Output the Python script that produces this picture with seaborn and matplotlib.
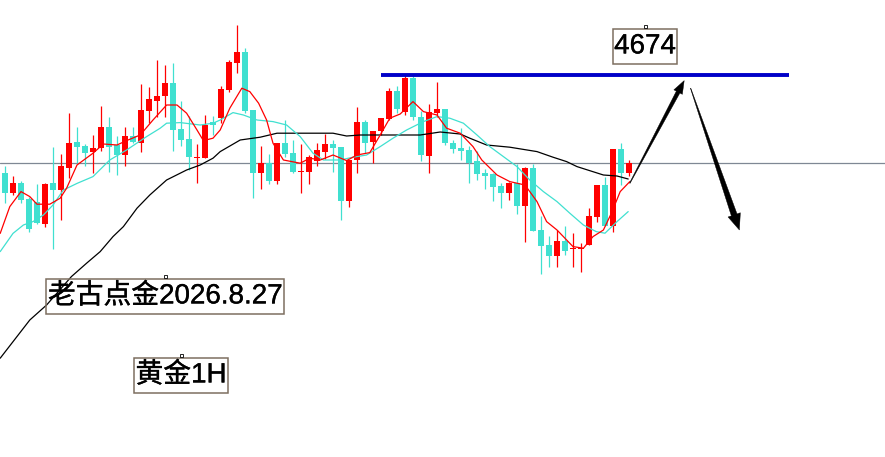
import numpy as np
import pandas as pd
import matplotlib
matplotlib.use("Agg")
import matplotlib.pyplot as plt
import matplotlib.patheffects as pe
import seaborn as sns
from matplotlib.patches import Polygon, Rectangle
from matplotlib.transforms import IdentityTransform

# ---------------- data (gold 1H candles) ----------------
opens = [4625, 4615, 4620, 4612, 4610.5, 4599.5, 4620, 4616.5, 4627.5, 4640.5,
         4638.5, 4635.5, 4637.5, 4648, 4639, 4634, 4643.5, 4640, 4656, 4661,
         4663.5, 4670, 4647, 4642, 4632.5, 4632.5, 4650.5, 4652.5, 4666.5, 4680,
         4685.5, 4656.5, 4625, 4630, 4621, 4640, 4635, 4625.5, 4625.5, 4631,
         4635.5, 4639.5, 4638, 4611, 4631.5, 4650.5, 4640.5, 4646, 4652, 4666,
         4655.5, 4672.5, 4653, 4633.5, 4655, 4657, 4640, 4637.5, 4636.5, 4631,
         4625, 4624.5, 4618.5, 4615, 4620, 4608.5, 4627.5, 4596.5, 4589, 4583.5,
         4591, 4587, 4587, 4589, 4603, 4619, 4598.5, 4637, 4625]
highs = [4628.5, 4623.5, 4621, 4613, 4619.5, 4620, 4638, 4634.5, 4655, 4648,
         4639.5, 4644, 4658.5, 4653, 4643.5, 4648, 4648, 4669.5, 4668, 4681.5,
         4679, 4680, 4661, 4653.5, 4639.5, 4654, 4653.5, 4668.5, 4681.5, 4699,
         4687.5, 4656.5, 4638.5, 4634.5, 4640, 4651.5, 4641.5, 4639.5, 4634, 4640,
         4644.5, 4641.5, 4638, 4631.5, 4658, 4651.5, 4646, 4652.5, 4667.5, 4668.5,
         4674, 4674, 4656, 4659.5, 4670.5, 4657, 4641.5, 4647.5, 4638.5, 4636,
         4627, 4625, 4620, 4620.5, 4629.5, 4628, 4629.5, 4603.5, 4593.5, 4596.5,
         4598.5, 4595, 4590, 4607.5, 4619, 4623, 4637, 4640, 4631.5]
lows = [4610, 4614, 4610, 4595.5, 4599.5, 4598, 4587, 4601.5, 4622.5, 4630,
        4628.5, 4625, 4636, 4625.5, 4624, 4628.5, 4640, 4635.5, 4650, 4653,
        4653, 4636, 4638.5, 4626.5, 4620, 4632.5, 4644, 4650, 4665.5, 4675,
        4655, 4612.5, 4617, 4619.5, 4619.5, 4633, 4625, 4615, 4619.5, 4628.5,
        4632, 4625.5, 4601.5, 4608, 4625, 4635, 4630, 4644, 4651.5, 4655,
        4654, 4651.5, 4631, 4625, 4653, 4639, 4635, 4631.5, 4620, 4621.5,
        4617, 4611, 4607.5, 4611.5, 4604.5, 4590.5, 4596, 4574.5, 4578, 4578,
        4584, 4578, 4575.5, 4589, 4600.5, 4598.5, 4595.5, 4619, 4623.5]
closes = [4615, 4620, 4611.5, 4597, 4600, 4619.5, 4616.5, 4628.5, 4640, 4638,
          4635, 4637.5, 4648, 4638, 4634, 4643.5, 4640.5, 4656.5, 4662, 4663.5,
          4670, 4646.5, 4641.5, 4633, 4633, 4649, 4649, 4667, 4680.5, 4685.5,
          4656, 4625, 4630, 4621, 4640, 4634.5, 4625.5, 4626, 4633, 4636.5,
          4639.5, 4637.5, 4611, 4631.5, 4650.5, 4640, 4646, 4652.5, 4666, 4657,
          4672.5, 4653, 4634, 4655.5, 4657, 4640, 4637, 4636, 4630, 4624.5,
          4623.5, 4618, 4615, 4620, 4608.5, 4627.5, 4596, 4588.5, 4583.5, 4591,
          4586, 4587.5, 4587.5, 4603.5, 4619, 4598.5, 4637, 4625, 4630]

# moving-average lines (bar index, price)
ma_fast_x = [-0.6, 0.6, 2.0, 3.1, 4.0, 5.6, 6.9, 7.7, 9.0, 11.0, 12.3, 14.0, 15.2, 16.9,
             18.5, 20.2, 21.5, 22.7, 24.0, 24.8, 26.0, 26.9, 28.1, 29.6, 30.6, 31.7,
             32.7, 33.5, 34.8, 36.9, 38.1, 39.4, 41.0, 42.7, 44.0, 45.6, 46.9, 48.1,
             49.4, 51.0, 52.3, 54.0, 55.2, 56.9, 58.5, 59.6, 61.5, 63.1, 65.0, 66.5,
             67.7, 69.0, 71.0, 72.3, 73.5, 74.8, 75.8, 76.9, 78.1]
ma_fast_y = [4594.8, 4608.2, 4615.7, 4613.2, 4609.4, 4609.4, 4612.4, 4617.4, 4629.0,
             4634.9, 4639.5, 4639.0, 4641.2, 4644.0, 4651.5, 4659.0, 4659.0, 4654.9,
             4646.5, 4641.2, 4642.4, 4646.5, 4657.4, 4667.4, 4665.7, 4659.9, 4651.5,
             4639.9, 4631.5, 4629.9, 4632.4, 4631.5, 4634.0, 4631.2, 4634.0, 4635.2,
             4644.0, 4652.4, 4654.5, 4660.7, 4655.7, 4654.0, 4647.4, 4644.9, 4638.2,
             4631.5, 4624.0, 4620.7, 4619.0, 4610.7, 4600.7, 4596.5, 4588.2, 4587.4,
             4593.2, 4596.5, 4604.9, 4615.7, 4620.7]
ma_mid_x = [-0.6, 1.0, 2.3, 3.5, 4.8, 6.0, 7.3, 9.0, 11.0, 13.1, 15.2, 17.7, 19.4, 20.2,
            21.9, 24.4, 26.0, 26.9, 28.5, 29.8, 31.5, 33.5, 35.2, 36.9, 38.5, 39.8,
            41.9, 43.5, 45.2, 46.9, 48.5, 50.2, 52.3, 54.0, 55.6, 57.3, 59.0, 60.6,
            62.3, 64.0, 65.6, 67.3, 69.0, 70.6, 72.3, 73.9, 75.0, 76.5, 77.9]
ma_mid_y = [4585.7, 4594.8, 4599.0, 4600.7, 4604.0, 4609.0, 4616.5, 4619.8, 4623.2,
            4631.5, 4636.5, 4643.2, 4647.4, 4649.9, 4650.2, 4649.0, 4649.9, 4651.5,
            4655.2, 4654.0, 4651.5, 4650.7, 4649.0, 4643.2, 4634.9, 4631.5, 4631.5,
            4632.9, 4634.0, 4638.2, 4642.4, 4646.5, 4650.7, 4653.2, 4652.4, 4649.9,
            4644.0, 4638.2, 4633.2, 4628.2, 4621.5, 4615.7, 4610.7, 4604.9, 4599.0,
            4595.7, 4594.9, 4600.7, 4605.7]
ma_slow_x = [-0.6, 3.1, 5.2, 8.3, 10.2, 11.9, 13.5, 14.8, 16.5, 18.1, 20.2, 22.7, 24.4,
             26.0, 26.9, 29.4, 31.9, 34.0, 41.0, 42.7, 44.4, 51.9, 54.4, 56.9, 58.1,
             60.2, 63.1, 66.5, 68.5, 70.2, 71.5, 74.8, 76.5, 77.9]
ma_slow_y = [4532.4, 4551.5, 4559.0, 4573.2, 4579.9, 4585.7, 4593.2, 4598.2, 4607.4,
             4614.0, 4621.5, 4626.5, 4629.0, 4632.4, 4635.7, 4641.5, 4642.9, 4644.9,
             4644.9, 4643.5, 4644.0, 4644.0, 4645.5, 4644.5, 4642.4, 4639.0, 4637.9,
             4635.7, 4632.9, 4630.7, 4628.2, 4624.0, 4623.5, 4622.0]

# annotations
ref_price = 4630.0                 # grey horizontal line
resist_price = 4674.0              # blue resistance line
resist_span = [47.0, 98.0]
arrow_tails = [(78.1, 4619.9), (85.7, 4667.4)]
arrow_tips = [(84.9, 4671.2), (91.8, 4596.5)]
labels = ["4674", "老古点金2026.8.27", "黄金1H"]
label_x = [80.0, 20.0, 22.0]
label_y = [4688.3, 4563.3, 4523.8]

# ---------------- drawing ----------------
sns.set_style("white")
plt.rcParams["font.family"] = ["Liberation Sans", "Noto Sans CJK SC", "DejaVu Sans"]

fig = plt.figure(figsize=(8.85, 4.57), dpi=100)
ax = fig.add_axes([0, 0, 1, 1])
ax.set_xlim(-0.625, 110)
ax.set_ylim(4483, 4711.5)
ax.axis("off")

UP, DOWN = "#ff0000", "#40e0d0"
idx = np.arange(len(opens))
o, h, l, c = map(np.asarray, (opens, highs, lows, closes))
cols = [UP if cc >= oo else DOWN for oo, cc in zip(o, c)]

ax.axhline(ref_price, color="#7f8894", lw=0.9, zorder=1)

ax.vlines(idx, l, h, colors=cols, lw=0.9, zorder=2)
body_bot = np.minimum(o, c)
body_h = np.maximum(np.abs(c - o), 0.5)
ax.bar(idx, body_h, bottom=body_bot, width=0.68, color=cols, linewidth=0, zorder=3)

sns.lineplot(x=ma_slow_x, y=ma_slow_y, ax=ax, color="black", lw=0.9, sort=False,
             estimator=None, zorder=4)
sns.lineplot(x=ma_mid_x, y=ma_mid_y, ax=ax, color="#40e0d0", lw=0.9, sort=False,
             estimator=None, zorder=4)
sns.lineplot(x=ma_fast_x, y=ma_fast_y, ax=ax, color="#ff0000", lw=0.9, sort=False,
             estimator=None, zorder=5)

ax.hlines(resist_price, resist_span[0], resist_span[1], color="#0000c8", lw=2.8, zorder=6)

# tapered arrows built in pixel space
def arrow_poly(tail, tip, head_len, head_w, shaft_w0, shaft_w1):
    t = ax.transData.transform(tail)
    p = ax.transData.transform(tip)
    d = (p - t) / np.hypot(*(p - t))
    n = np.array([-d[1], d[0]])
    base = p - d * head_len
    pts = [t + n * shaft_w0, base + n * shaft_w1, base + n * head_w, p,
           base - n * head_w, base - n * shaft_w1, t - n * shaft_w0]
    return Polygon(pts, closed=True, transform=IdentityTransform(),
                   facecolor="black", edgecolor="black", lw=0.3, zorder=7)

ax.add_patch(arrow_poly(arrow_tails[0], arrow_tips[0], 13, 4.8, 0.3, 2.0))
ax.add_patch(arrow_poly(arrow_tails[1], arrow_tips[1], 16, 6.5, 0.2, 3.0))

# text labels with rectangular frames
fig.canvas.draw()
renderer = fig.canvas.get_renderer()
for txt, tx, ty in zip(labels, label_x, label_y):
    t = ax.text(tx, ty, txt, fontsize=20, ha="center", va="center", color="black",
                zorder=9,
                path_effects=[pe.withStroke(linewidth=0.25, foreground="black")])
    bb = t.get_window_extent(renderer)
    cx, cy = ax.transData.transform((tx, ty))
    w = bb.width + 3
    hgt = 35
    rect = Rectangle((cx - w / 2, cy - hgt / 2), w, hgt, transform=IdentityTransform(),
                     facecolor="none", edgecolor="#7d6f60", lw=1.1, zorder=8)
    ax.add_patch(rect)
    mx, my = cx, cy + hgt / 2 + 2.5
    ax.add_patch(Rectangle((mx - 1.5, my - 1.5), 3, 3, transform=IdentityTransform(),
                           facecolor="white", edgecolor="black", lw=0.6, zorder=9))

fig.savefig("out.png", dpi=100)
